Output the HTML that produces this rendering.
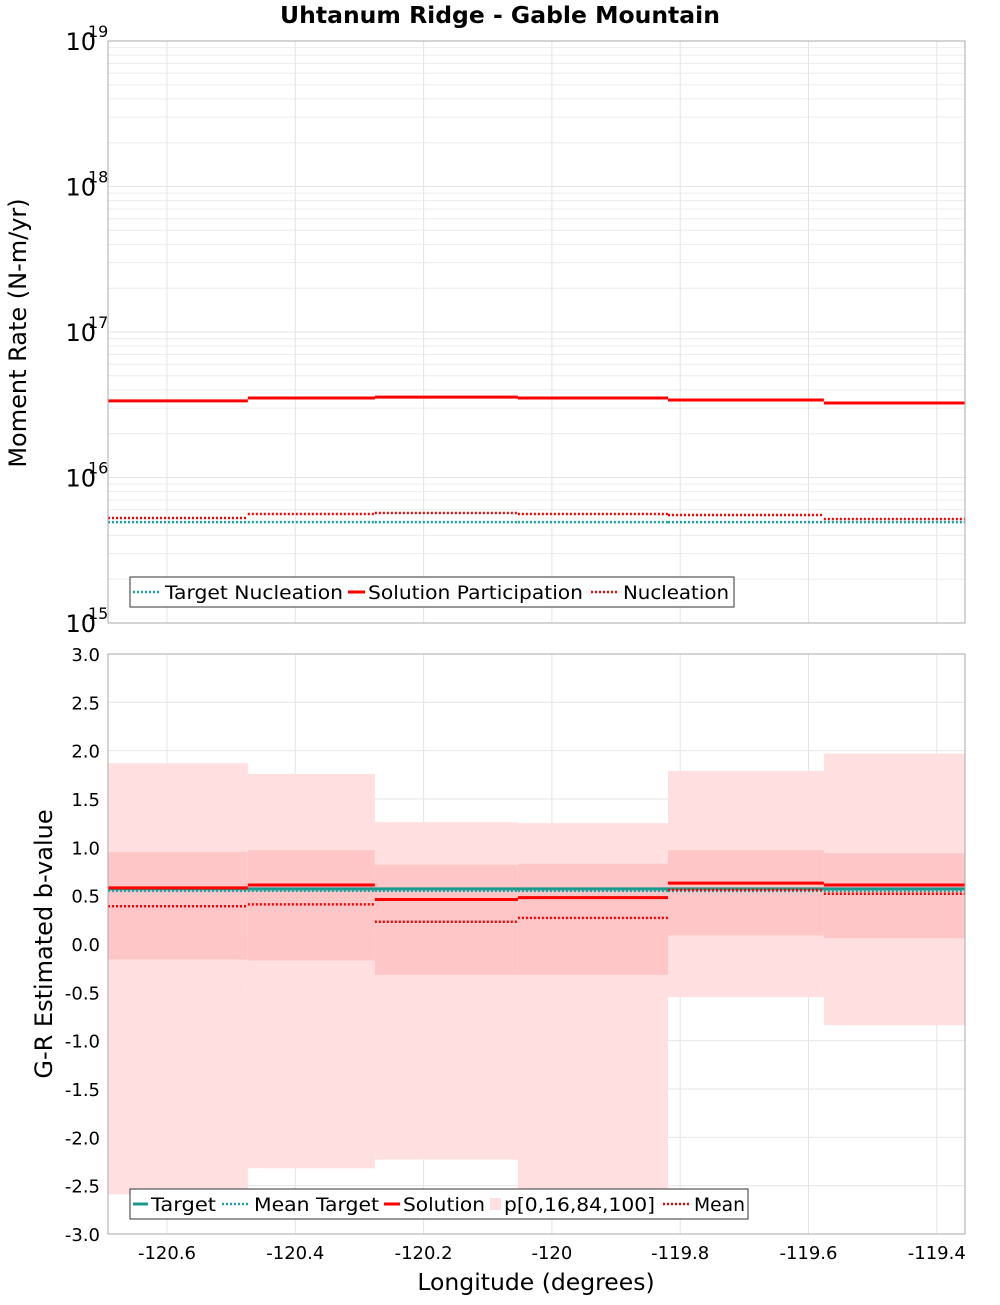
<!DOCTYPE html>
<html><head><meta charset="utf-8"><style>
body{margin:0;background:#fff}
svg text{font-family:"DejaVu Sans","Liberation Sans",sans-serif}
</style></head><body>
<svg id="c" width="1000" height="1300" viewBox="0 0 1000 1300" xmlns="http://www.w3.org/2000/svg"></svg>
<script>
const binEdges=[-120.692,-120.474,-120.276,-120.053,-119.819,-119.576,-119.356];
const xTicks=[-120.6,-120.4,-120.2,-120,-119.8,-119.6,-119.4];
const xTickLabels=["-120.6","-120.4","-120.2","-120","-119.8","-119.6","-119.4"];
const solutionPart=[3.36e16,3.52e16,3.57e16,3.52e16,3.41e16,3.25e16];
const nucleation=[5.27e15,5.61e15,5.7e15,5.61e15,5.52e15,5.19e15];
const targetNucl=[4.94e15,4.94e15,4.94e15,4.94e15,4.94e15,4.94e15];
const yTopDecades=[15,16,17,18,19];
const bP0=[-2.59,-2.32,-2.23,-2.58,-0.55,-0.84];
const bP16=[-0.16,-0.17,-0.32,-0.32,0.09,0.06];
const bP84=[0.95,0.97,0.82,0.83,0.97,0.94];
const bP100=[1.87,1.76,1.26,1.25,1.79,1.97];
const bSolution=[0.58,0.61,0.46,0.48,0.63,0.61];
const bMean=[0.39,0.41,0.23,0.27,0.56,0.52];
const bTarget=[0.57,0.57,0.57,0.57,0.57,0.57];
const bMeanTarget=[0.55,0.55,0.55,0.55,0.55,0.55];
const yBotTicks=[-3,-2.5,-2,-1.5,-1,-0.5,0,0.5,1,1.5,2,2.5,3];

const NS="http://www.w3.org/2000/svg";
const svg=document.getElementById('c');
const L=108,R=965,T1=41,B1=623,T2=654,B2=1234;
const xS=v=>L+(v-binEdges[0])/(binEdges[6]-binEdges[0])*(R-L);
const yTop=v=>B1-(Math.log10(v)-15)/4*(B1-T1);
const yBot=v=>B2-(v+3)/6*(B2-T2);
function mk(tag,attrs,parent){const e=document.createElementNS(NS,tag);for(const k in attrs)e.setAttribute(k,attrs[k]);(parent||svg).appendChild(e);return e;}
function txt(s,attrs){const e=mk('text',attrs);e.textContent=s;return e;}

let t=txt("Uhtanum Ridge - Gable Mountain",{x:500,y:23,'text-anchor':'middle','font-size':23.5,'font-weight':'bold'});


const gTop=mk('g',{});

for(let d=15;d<19;d++)for(let m=2;m<=9;m++){const y=yTop(m*Math.pow(10,d));mk('line',{x1:L,x2:R,y1:y,y2:y,stroke:'#ececec','stroke-width':1},gTop);}
yTopDecades.forEach(d=>{const y=yTop(Math.pow(10,d));mk('line',{x1:L,x2:R,y1:y,y2:y,stroke:'#e4e4e4'},gTop);});
xTicks.forEach(v=>{mk('line',{x1:xS(v),x2:xS(v),y1:T1,y2:B1,stroke:'#e4e4e4'},gTop);});
const gBot=mk('g',{});

yBotTicks.forEach(v=>{mk('line',{x1:L,x2:R,y1:yBot(v),y2:yBot(v),stroke:'#e4e4e4'},gBot);});
xTicks.forEach(v=>{mk('line',{x1:xS(v),x2:xS(v),y1:T2,y2:B2,stroke:'#e4e4e4'},gBot);});

function step(arr,scale,attrs,name){
  let d='';
  arr.forEach((v,i)=>{const x0=xS(binEdges[i]),x1=xS(binEdges[i+1]),y=scale(v);d+='M'+x0+' '+y+'L'+x1+' '+y;});
  const p=mk('path',Object.assign({d:d,fill:'none'},attrs));
  
}
step(targetNucl,yTop,{stroke:'#1aa3a3','stroke-width':2.5,'stroke-dasharray':'2 2'},'target-nucleation-line');
step(nucleation,yTop,{stroke:'#ff0000','stroke-width':2.5,'stroke-dasharray':'2 2'},'nucleation-line');
step(solutionPart,yTop,{stroke:'#ff0000','stroke-width':3},'solution-participation-line');

binEdges.slice(0,6).forEach((e,i)=>{
  const x0=xS(e),x1=xS(binEdges[i+1]);
  let r=mk('rect',{x:x0,y:yBot(bP100[i]),width:x1-x0,height:yBot(bP0[i])-yBot(bP100[i]),fill:'#ffdfe0'});
  
  r=mk('rect',{x:x0,y:yBot(bP84[i]),width:x1-x0,height:yBot(bP16[i])-yBot(bP84[i]),fill:'#ffc6c8'});
  
});
step(bTarget,yBot,{stroke:'#1a9a8a','stroke-width':3},'target-line');
step(bMeanTarget,yBot,{stroke:'#1aa3a3','stroke-width':2.5,'stroke-dasharray':'2 2'},'mean-target-line');
step(bMean,yBot,{stroke:'#ff0000','stroke-width':2.5,'stroke-dasharray':'2 2'},'mean-line');
step(bSolution,yBot,{stroke:'#ff0000','stroke-width':3},'solution-line');

[[T1,B1,'top-plot-frame'],[T2,B2,'bottom-plot-frame']].forEach(f=>{const r=mk('rect',{x:L,y:f[0],width:R-L,height:f[1]-f[0],fill:'none',stroke:'#aaa'});});

yTopDecades.forEach(d=>{const y=yTop(Math.pow(10,d));
  const e=txt('10',{x:96,y:y+9,'text-anchor':'end','font-size':24});
  
  const s=txt(String(d),{x:88,y:y-4,'font-size':16});
  
});
yBotTicks.forEach(v=>{const e=txt(v.toFixed(1),{x:100,y:yBot(v)+7,'text-anchor':'end','font-size':18});
  });
xTicks.forEach((v,i)=>{const e=txt(xTickLabels[i],{x:xS(v),y:1259,'text-anchor':'middle','font-size':18});
  });
t=txt('Longitude (degrees)',{x:536,y:1290,'text-anchor':'middle','font-size':23.5});

t=txt('Moment Rate (N-m/yr)',{x:0,y:0,'text-anchor':'middle','font-size':24,transform:'translate(26,333) rotate(-90)'});

t=txt('G-R Estimated b-value',{x:0,y:0,'text-anchor':'middle','font-size':24,transform:'translate(52,944) rotate(-90)'});


// legend items: [markerStart, markerEnd, textStart, textEnd]
function legend(x,y,w,items,name){
  const g=mk('g',{});
  mk('rect',{x:x,y:y,width:w,height:30,fill:'#fff',stroke:'#333'},g);
  items.forEach(it=>{
    if(it.box){mk('rect',{x:it.m0,y:y+9,width:it.m1-it.m0,height:12,fill:it.c},g);}
    else{mk('line',Object.assign({x1:it.m0,x2:it.m1,y1:y+15,y2:y+15,stroke:it.c,'stroke-width':it.d?2.5:3},it.d?{'stroke-dasharray':'2 2'}:{}),g);}
    const e=document.createElementNS(NS,'text');e.setAttribute('x',it.t0);e.setAttribute('y',y+22);e.setAttribute('font-size',19);
    e.setAttribute('textLength',it.t1-it.t0);e.setAttribute('lengthAdjust','spacingAndGlyphs');
    e.textContent=it.t;g.appendChild(e);
    
  });
}
legend(130,577,604,[
 {c:'#1aa3a3',d:1,t:'Target Nucleation',m0:133,m1:161,t0:165,t1:343},
 {c:'#ff0000',t:'Solution Participation',m0:348,m1:365,t0:368,t1:583},
 {c:'#ff0000',d:1,t:'Nucleation',m0:591,m1:619,t0:623,t1:729}],'top-legend');
legend(130,1189,618,[
 {c:'#1a9a8a',t:'Target',m0:133,m1:148,t0:151,t1:216},
 {c:'#1aa3a3',d:1,t:'Mean Target',m0:222,m1:250,t0:254,t1:379},
 {c:'#ff0000',t:'Solution',m0:384,m1:400,t0:403,t1:485},
 {c:'#ffdfe0',box:1,t:'p[0,16,84,100]',m0:490,m1:501,t0:504,t1:655},
 {c:'#ff0000',d:1,t:'Mean',m0:663,m1:690,t0:694,t1:745}],'bottom-legend');
</script>
</body></html>
